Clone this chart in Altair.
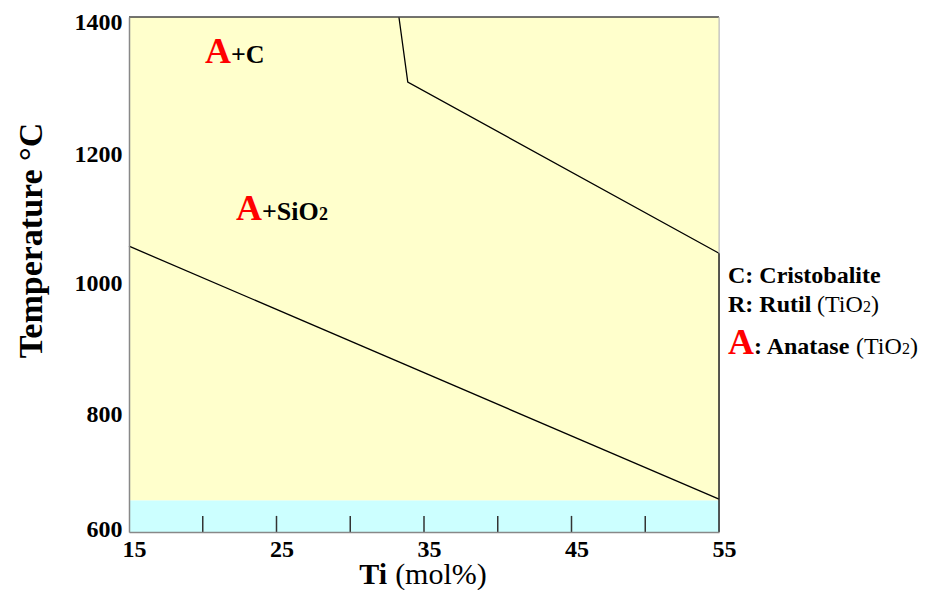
import altair as alt
import pandas as pd

FONT = "Liberation Serif"

# ---- data ----
x_label_values = [15, 25, 35, 45, 55]
x_inner_ticks = [20, 25, 30, 35, 40, 45, 50]
y_label_values = [600, 800, 1000, 1200, 1400]

x_domain = [15, 55]
y_domain = [600, 1400]

# phase regions
region_x = [15, 15]
region_x2 = [55, 55]
region_y = [649, 600]
region_y2 = [1400, 649]
region_color = ["#FFFFCC", "#CCFFFF"]

# phase boundaries
lower_x = [15, 55]
lower_y = [1044, 651]
upper_x = [33.3, 33.9, 55]
upper_y = [1400, 1299, 1033]

# annotation anchors (data coordinates)
ac_anchor = (20.15, 1328.5)
asio_anchor = (22.25, 1085)
legend_x = 55.61
legend_y = [986.8, 941.7, 876.5]
xtitle_anchor = (32.5, 519.5)

xs = alt.Scale(domain=x_domain, nice=False, zero=False)
ys = alt.Scale(domain=y_domain, nice=False, zero=False)

x_axis = alt.Axis(values=x_label_values, title=None, ticks=False, grid=False, format="d",
                  labelFont=FONT, labelFontSize=24, labelFontWeight="bold",
                  labelColor="black", labelPadding=5, labelOffset=5, labelFlush=False,
                  domainColor="#888888", domainWidth=1.5, zindex=1)
y_axis = alt.Axis(values=y_label_values, title="Temperature  °C", ticks=False, grid=False, format="d",
                  labelFont=FONT, labelFontSize=24, labelFontWeight="bold",
                  labelColor="black", labelPadding=7,
                  labelOffset={"condition": [{"test": "datum.value == 600", "value": -3},
                                             {"test": "datum.value == 1400", "value": 5},
                                             {"test": "datum.value == 800", "value": 11}],
                               "value": 9},
                  domainColor="#888888", domainWidth=1.5, zindex=1,
                  titleFont=FONT, titleFontSize=34, titleFontWeight="bold",
                  titleColor="black", titleX=-88, titleY=223, titleAngle=-90,
                  titleBaseline="alphabetic", titleAlign="center")


def X(f="x"):
    return alt.X(f"{f}:Q", scale=xs, axis=x_axis)


def Y(f="y"):
    return alt.Y(f"{f}:Q", scale=ys, axis=y_axis)


regions = pd.DataFrame({"x": region_x, "x2": region_x2, "y": region_y,
                        "y2": region_y2, "c": region_color})
rects = alt.Chart(regions).mark_rect().encode(
    x=X(), x2="x2:Q", y=Y(), y2="y2:Q",
    color=alt.Color("c:N", scale=None))

ticks_df = pd.DataFrame({"x": x_inner_ticks, "y": [600] * len(x_inner_ticks),
                         "y2": [625] * len(x_inner_ticks)})
ticks = alt.Chart(ticks_df).mark_rule(color="#333333", strokeWidth=1.5).encode(
    x=X(), y=Y(), y2="y2:Q")

lower = alt.Chart(pd.DataFrame({"x": lower_x, "y": lower_y})).mark_line(
    color="black", strokeWidth=1.3).encode(x=X(), y=Y())
upper = alt.Chart(pd.DataFrame({"x": upper_x, "y": upper_y, "o": range(len(upper_x))})).mark_line(
    color="black", strokeWidth=1.3).encode(x=X(), y=Y(), order="o:Q")

top_border = alt.Chart(pd.DataFrame({"x": [x_domain[0]], "x2": [x_domain[1]], "y": [y_domain[1]]})).mark_rule(
    color="#444444", strokeWidth=1.5).encode(x=X(), x2="x2:Q", y=Y())
right_light = alt.Chart(pd.DataFrame({"x": [x_domain[1]], "y": [upper_y[-1]], "y2": [y_domain[1]]})).mark_rule(
    color="#BBBBBB", strokeWidth=1).encode(x=X(), y=Y(), y2="y2:Q")
right_dark = alt.Chart(pd.DataFrame({"x": [x_domain[1]], "y": [y_domain[0]], "y2": [upper_y[-1]]})).mark_rule(
    color="#222222", strokeWidth=1.5).encode(x=X(), y=Y(), y2="y2:Q")


def txt(s, x, y, dx=0, size=24, weight="bold", color="black", align="left"):
    df = pd.DataFrame({"x": [x], "y": [y], "t": [s]})
    return alt.Chart(df).mark_text(
        align=align, baseline="alphabetic", dx=dx, fontSize=size,
        fontWeight=weight, color=color, font=FONT).encode(x=X(), y=Y(), text="t:N")


texts = [
    # A+C
    txt("A", *ac_anchor, size=36, color="red"),
    txt("+C", *ac_anchor, dx=26, size=26),
    # A+SiO2
    txt("A", *asio_anchor, size=36, color="red"),
    txt("+SiO", *asio_anchor, dx=26, size=26),
    txt("2", *asio_anchor, dx=83, size=18),
    # legend
    txt("C: Cristobalite", legend_x, legend_y[0], size=24),
    txt("R: Rutil", legend_x, legend_y[1], size=24),
    txt("(TiO", legend_x, legend_y[1], dx=89, size=24, weight="normal"),
    txt("2", legend_x, legend_y[1], dx=135, size=16, weight="normal"),
    txt(")", legend_x, legend_y[1], dx=143, size=24, weight="normal"),
    txt("A", legend_x, legend_y[2], size=36, color="red"),
    txt(": Anatase", legend_x, legend_y[2], dx=26, size=24),
    txt("(TiO", legend_x, legend_y[2], dx=128, size=24, weight="normal"),
    txt("2", legend_x, legend_y[2], dx=174, size=16, weight="normal"),
    txt(")", legend_x, legend_y[2], dx=182, size=24, weight="normal"),
    # x title
    txt("Ti", *xtitle_anchor, size=30, align="right"),
    txt("(mol%)", *xtitle_anchor, dx=8, size=30, weight="normal"),
]

chart = alt.layer(rects, ticks, lower, upper, top_border, right_light, right_dark, *texts).properties(
    width=590, height=515,
    autosize=alt.AutoSizeParams(type="none"),
    padding={"left": 121, "top": 9, "right": 203, "bottom": 58},
).configure_view(stroke=None).configure(background="white")

chart.save("out.html", embed_options={"renderer": "svg", "actions": False})
